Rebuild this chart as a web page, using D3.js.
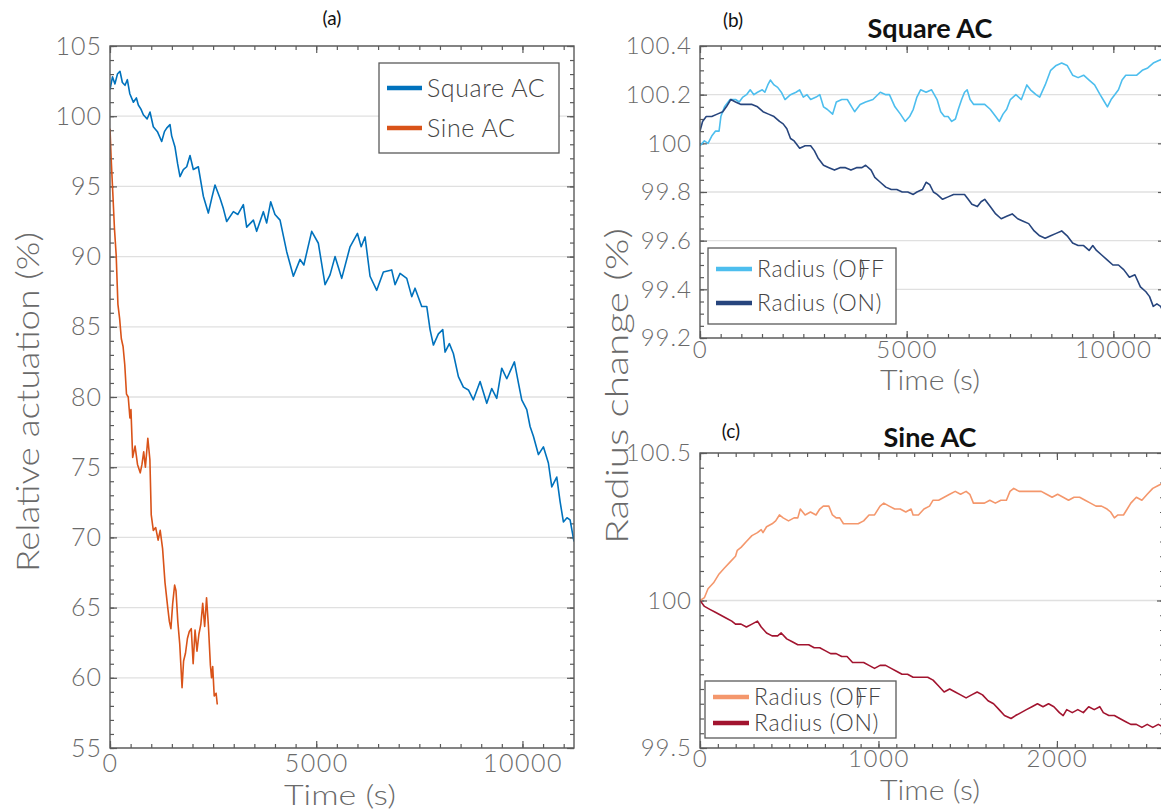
<!DOCTYPE html>
<html>
<head>
<meta charset="utf-8">
<script src="https://cdn.jsdelivr.net/npm/d3@7"></script>
<style>
  html, body { margin: 0; padding: 0; background: #fff; overflow: hidden; }
  svg { display: block; }
  text { font-family: "Lato", "Open Sans", sans-serif; }
</style>
</head>
<body>
<svg id="fig" width="1161" height="810"></svg>
<script>
// ---------- data ----------
// (a) relative actuation (%) over time (s)
const squareTime = [0,60,120,180,242,300,364,420,480,566,640,687,750,808,900,970,1050,1150,1253,1320,1374,1455,1495,1576,1640,1697,1778,1860,1940,2020,2141,2263,2384,2470,2546,2668,2750,2829,2991,3100,3233,3314,3476,3556,3718,3799,3896,4000,4123,4284,4446,4608,4700,4890,5052,5214,5335,5456,5540,5618,5820,6000,6090,6184,6305,6467,6628,6830,6911,7033,7195,7316,7396,7558,7680,7760,7841,7962,8068,8124,8228,8325,8447,8568,8690,8810,8973,9135,9256,9377,9498,9620,9805,9902,9983,10105,10185,10266,10387,10508,10629,10711,10832,10913,10993,11080,11155,11250];
const squareValue = [101.9,102.8,102.3,103.0,103.2,102.4,102.2,102.6,101.6,101.0,101.3,100.8,100.5,100.1,99.8,100.3,99.25,98.9,98.2,98.9,99.15,99.4,98.6,97.8,96.6,95.7,96.2,96.4,97.2,96.2,96.4,94.3,93.1,94.2,95.1,94.15,93.4,92.5,93.2,93.0,93.7,92.1,92.6,91.8,93.2,92.4,93.9,93.0,92.6,90.35,88.6,89.8,89.4,91.8,90.95,88.0,88.7,90.0,89.2,88.45,90.7,91.65,90.7,91.4,88.6,87.6,88.9,89.05,88.0,88.8,88.45,87.15,87.75,86.45,86.45,84.8,83.7,84.5,84.8,83.2,83.8,83.1,81.45,80.7,80.5,79.8,81.1,79.55,80.6,79.9,82.05,81.3,82.5,81.0,79.8,79.1,77.9,77.2,75.9,76.45,75.3,73.6,74.3,72.55,71.1,71.4,71.25,69.7];

const sineTime = [0,25,67,108,150,192,233,275,317,358,400,442,483,508,550,608,667,733,775,817,858,917,967,1000,1050,1108,1167,1217,1275,1333,1400,1440,1477,1520,1567,1600,1644,1691,1747,1784,1830,1877,1923,1970,2016,2062,2109,2155,2202,2248,2295,2341,2387,2434,2462,2490,2527,2573,2601];
const sineValue = [99.1,97.2,94.6,92.0,90.1,86.6,85.6,84.15,83.6,82.3,80.2,80.0,78.5,79.1,75.7,76.5,75.2,74.6,75.2,76.1,75.0,77.05,75.55,71.6,70.5,70.7,69.8,70.5,69.2,66.8,65.0,64.0,63.5,65.3,66.6,66.2,64.0,62.4,59.3,61.2,61.75,62.8,63.3,63.5,61.0,63.4,61.9,63.1,63.8,65.3,63.65,65.7,63.65,60.9,60.0,60.8,58.7,58.9,58.1];

// (b) Square AC radius change (%)
const sqOffTime = [0,106,195,284,372,461,505,594,727,860,949,1037,1126,1215,1303,1392,1507,1569,1640,1702,1791,1879,1968,2057,2190,2323,2411,2500,2589,2677,2810,2899,2988,3076,3209,3298,3431,3564,3670,3741,3874,4007,4184,4362,4495,4583,4716,4849,4964,5071,5160,5248,5337,5470,5603,5736,5824,5913,6002,6090,6179,6250,6330,6400,6463,6534,6622,6755,6888,7021,7154,7243,7331,7420,7509,7642,7775,7907,7996,8129,8218,8351,8484,8617,8750,8882,9015,9148,9281,9414,9547,9680,9787,9857,9946,10034,10124,10212,10301,10434,10567,10700,10833,10966,11099,11232];
const sqOffValue = [99.99,100.01,100.0,100.03,100.05,100.05,100.11,100.15,100.18,100.18,100.17,100.19,100.2,100.22,100.2,100.21,100.22,100.21,100.24,100.26,100.24,100.23,100.21,100.18,100.2,100.21,100.22,100.19,100.2,100.18,100.19,100.2,100.15,100.14,100.12,100.17,100.18,100.18,100.15,100.13,100.16,100.17,100.18,100.21,100.2,100.2,100.15,100.12,100.09,100.11,100.14,100.19,100.22,100.21,100.22,100.18,100.13,100.11,100.11,100.09,100.1,100.14,100.18,100.21,100.22,100.18,100.16,100.16,100.16,100.14,100.11,100.09,100.12,100.14,100.18,100.2,100.18,100.24,100.22,100.2,100.19,100.24,100.3,100.32,100.33,100.32,100.28,100.27,100.28,100.26,100.24,100.2,100.17,100.15,100.18,100.2,100.22,100.26,100.28,100.28,100.28,100.3,100.31,100.33,100.34,100.35];

const sqOnTime = [0,62,151,284,417,550,638,745,860,993,1126,1259,1392,1525,1658,1791,1924,2012,2101,2190,2278,2411,2544,2677,2766,2855,2988,3120,3253,3386,3519,3652,3785,3918,4007,4140,4229,4362,4495,4627,4760,4893,5026,5160,5248,5381,5470,5558,5647,5736,5869,6002,6135,6268,6400,6489,6578,6711,6800,6888,7021,7154,7287,7420,7553,7686,7819,7952,8085,8218,8351,8484,8617,8750,8882,9015,9148,9281,9414,9503,9592,9725,9857,9990,10124,10256,10389,10522,10655,10788,10877,10966,11054,11143,11232];
const sqOnValue = [100.05,100.09,100.11,100.11,100.12,100.13,100.15,100.18,100.17,100.16,100.16,100.16,100.15,100.13,100.12,100.11,100.09,100.08,100.06,100.02,100.01,99.98,99.99,99.99,99.97,99.94,99.91,99.9,99.89,99.9,99.9,99.89,99.9,99.9,99.91,99.89,99.86,99.84,99.82,99.81,99.81,99.8,99.8,99.79,99.8,99.81,99.84,99.83,99.8,99.79,99.77,99.78,99.79,99.79,99.79,99.77,99.75,99.74,99.76,99.77,99.74,99.71,99.69,99.7,99.71,99.69,99.68,99.67,99.64,99.62,99.61,99.62,99.63,99.64,99.62,99.59,99.58,99.58,99.56,99.58,99.56,99.54,99.52,99.5,99.5,99.48,99.45,99.46,99.41,99.39,99.37,99.33,99.34,99.33,99.3];

// (c) Sine AC radius change (%)
const siOffTime = [0,25,45,76,107,137,168,199,209,230,260,291,322,343,353,373,404,424,445,466,496,527,548,562,589,619,650,671,691,722,742,763,783,804,824,855,886,917,947,978,1009,1030,1060,1091,1122,1153,1183,1194,1224,1255,1286,1306,1337,1368,1399,1430,1460,1491,1512,1532,1563,1594,1624,1655,1686,1717,1737,1758,1788,1819,1850,1881,1912,1942,1973,2004,2035,2065,2096,2127,2158,2188,2219,2250,2281,2301,2322,2342,2373,2394,2414,2445,2476,2506,2537,2568,2600];
const siOffValue = [100.0,100.01,100.04,100.06,100.09,100.11,100.13,100.15,100.17,100.18,100.2,100.22,100.23,100.24,100.23,100.25,100.26,100.27,100.29,100.28,100.27,100.28,100.28,100.31,100.29,100.3,100.29,100.31,100.32,100.32,100.29,100.28,100.28,100.26,100.26,100.26,100.26,100.27,100.29,100.29,100.32,100.33,100.32,100.31,100.31,100.3,100.31,100.29,100.29,100.31,100.32,100.34,100.34,100.35,100.36,100.37,100.36,100.37,100.36,100.33,100.33,100.33,100.34,100.33,100.34,100.34,100.37,100.38,100.37,100.37,100.37,100.37,100.37,100.36,100.35,100.36,100.35,100.34,100.35,100.35,100.34,100.33,100.32,100.32,100.31,100.3,100.28,100.29,100.29,100.31,100.33,100.35,100.34,100.36,100.38,100.39,100.4];

const siOnTime = [0,25,55,86,117,148,178,199,230,260,291,322,343,373,404,435,455,486,517,548,578,609,640,671,701,732,763,794,824,855,886,917,947,978,1009,1040,1071,1101,1132,1163,1194,1224,1255,1276,1306,1337,1368,1399,1430,1460,1491,1522,1553,1583,1614,1645,1676,1706,1743,1768,1799,1829,1860,1891,1922,1953,1983,2014,2035,2055,2086,2117,2148,2178,2209,2240,2260,2291,2322,2352,2383,2414,2445,2476,2506,2537,2568,2600];
const siOnValue = [100.0,99.98,99.97,99.96,99.95,99.94,99.93,99.92,99.92,99.91,99.92,99.93,99.91,99.89,99.88,99.88,99.89,99.87,99.86,99.85,99.85,99.85,99.84,99.84,99.83,99.82,99.82,99.81,99.81,99.79,99.79,99.79,99.78,99.77,99.78,99.78,99.77,99.76,99.75,99.75,99.74,99.74,99.74,99.74,99.73,99.71,99.69,99.7,99.69,99.68,99.67,99.68,99.69,99.68,99.66,99.65,99.63,99.61,99.6,99.61,99.62,99.63,99.64,99.65,99.64,99.65,99.64,99.62,99.61,99.63,99.62,99.63,99.62,99.64,99.63,99.64,99.62,99.61,99.61,99.6,99.59,99.58,99.58,99.57,99.58,99.57,99.58,99.57];

// tick label values
const ticksAX = [0, 5000, 10000];
const ticksAY = [55, 60, 65, 70, 75, 80, 85, 90, 95, 100, 105];
const ticksBX = [0, 5000, 10000];
const ticksBY = [99.2, 99.4, 99.6, 99.8, 100, 100.2, 100.4];
const ticksCX = [0, 1000, 2000];
const ticksCY = [99.5, 100, 100.5];

// ---------- drawing ----------
const svg = d3.select("#fig");
const labelGrey = "#6a6a6a";
const frameGrey = "#5a5a5a";

function zip(t, v) { return t.map((x, i) => ({ t: x, v: v[i] })); }

function panel(box, xDom, yDom, opt) {
  const x = d3.scaleLinear().domain(xDom).range([box.left, box.right]);
  const y = d3.scaleLinear().domain(yDom).range([box.bottom, box.top]);
  const g = svg.append("g");

  // horizontal grid at major y ticks
  g.append("g").selectAll("line").data(opt.yTicks).join("line")
    .attr("x1", box.left).attr("x2", box.right)
    .attr("y1", d => y(d)).attr("y2", d => y(d))
    .attr("stroke", "#e0e0e0").attr("stroke-width", 1.3);

  // inward ticks on all four sides (minor + major)
  const xMinor = d3.range(xDom[0], xDom[1] + 1e-9, opt.xMinorStep);
  const yMinor = d3.range(yDom[0], yDom[1] + 1e-9, opt.yMinorStep).map(v => +v.toFixed(4));
  const tickStyle = sel => { sel.select(".domain").remove(); sel.selectAll("line").attr("stroke", frameGrey).attr("stroke-width", 1.2); sel.selectAll("text").remove(); };
  g.append("g").attr("transform", `translate(0,${box.bottom})`).call(d3.axisBottom(x).tickValues(xMinor).tickSize(-4)).call(tickStyle);
  g.append("g").attr("transform", `translate(0,${box.top})`).call(d3.axisTop(x).tickValues(xMinor).tickSize(-4)).call(tickStyle);
  g.append("g").attr("transform", `translate(${box.left},0)`).call(d3.axisLeft(y).tickValues(yMinor).tickSize(-4)).call(tickStyle);
  g.append("g").attr("transform", `translate(${box.right},0)`).call(d3.axisRight(y).tickValues(yMinor).tickSize(-4)).call(tickStyle);
  g.append("g").attr("transform", `translate(0,${box.bottom})`).call(d3.axisBottom(x).tickValues(opt.xTicks).tickSize(-7)).call(tickStyle);
  g.append("g").attr("transform", `translate(0,${box.top})`).call(d3.axisTop(x).tickValues(opt.xTicks).tickSize(-7)).call(tickStyle);
  g.append("g").attr("transform", `translate(${box.left},0)`).call(d3.axisLeft(y).tickValues(opt.yTicks).tickSize(-7)).call(tickStyle);
  g.append("g").attr("transform", `translate(${box.right},0)`).call(d3.axisRight(y).tickValues(opt.yTicks).tickSize(-7)).call(tickStyle);

  // tick labels
  const xAx = g.append("g").attr("transform", `translate(0,${box.bottom})`)
    .call(d3.axisBottom(x).tickValues(opt.xTicks).tickSize(0).tickPadding(opt.xPad).tickFormat(d3.format("d")));
  xAx.select(".domain").remove();
  xAx.selectAll("text").attr("font-family", "Lato, sans-serif").attr("font-weight", 300)
    .attr("font-size", opt.tickFont).attr("letter-spacing", "1.5px").attr("fill", labelGrey);
  const yAx = g.append("g").attr("transform", `translate(${box.left},0)`)
    .call(d3.axisLeft(y).tickValues(opt.yTicks).tickSize(0).tickPadding(8).tickFormat(d => String(+d.toFixed(1))));
  yAx.select(".domain").remove();
  yAx.selectAll("text").attr("font-family", "Lato, sans-serif").attr("font-weight", 300)
    .attr("font-size", opt.tickFont).attr("letter-spacing", "1px").attr("fill", labelGrey);

  // series, clipped to the axes box
  const clipId = "clip" + Math.round(box.left) + "_" + Math.round(box.top);
  svg.append("clipPath").attr("id", clipId).append("rect")
    .attr("x", box.left).attr("y", box.top).attr("width", box.right - box.left).attr("height", box.bottom - box.top);
  const line = d3.line().x(d => x(d.t)).y(d => y(d.v));
  const lg = g.append("g").attr("clip-path", `url(#${clipId})`);
  opt.series.forEach(s => {
    lg.append("path").datum(zip(s.t, s.v)).attr("d", line)
      .attr("fill", "none").attr("stroke", s.color).attr("stroke-width", 1.6).attr("stroke-linejoin", "round");
  });

  // frame
  g.append("rect").attr("x", box.left).attr("y", box.top)
    .attr("width", box.right - box.left).attr("height", box.bottom - box.top)
    .attr("fill", "none").attr("stroke", frameGrey).attr("stroke-width", 1.4);

  // x axis title
  g.append("text").attr("x", opt.xTitleX).attr("y", box.bottom + opt.xTitleDy)
    .attr("text-anchor", "middle").attr("font-weight", 300).attr("font-size", 28).attr("fill", labelGrey)
    .attr("textLength", opt.xTitleLen).attr("lengthAdjust", "spacingAndGlyphs")
    .text("Time (s)");

  // legend
  const L = opt.legend;
  const lgd = g.append("g");
  lgd.append("rect").attr("x", L.x).attr("y", L.y).attr("width", L.w).attr("height", L.h)
    .attr("fill", "#fff").attr("stroke", frameGrey).attr("stroke-width", 1.3);
  L.items.forEach((it, i) => {
    const cy = L.y + L.first + i * L.gap;
    const tx = L.x + 13 + L.sample;
    lgd.append("line").attr("x1", L.x + 8).attr("x2", L.x + 8 + L.sample).attr("y1", cy).attr("y2", cy)
      .attr("stroke", it.color).attr("stroke-width", 4.5);
    lgd.append("text").attr("x", tx).attr("y", cy).attr("dy", "0.35em")
      .attr("font-weight", 300).attr("font-size", L.font).attr("letter-spacing", "0.6px").attr("fill", "#444")
      .text(it.label);
    if (it.overlap) {
      // closing parenthesis printed over the first "F"
      const pre = lgd.append("text").attr("font-size", L.font).attr("font-weight", 300).attr("letter-spacing", "0.6px")
        .attr("visibility", "hidden").text(it.label.slice(0, it.overlap));
      const w = pre.node().getComputedTextLength();
      pre.remove();
      lgd.append("text").attr("x", tx + w + 2).attr("y", cy).attr("dy", "0.35em")
        .attr("font-weight", 300).attr("font-size", L.font).attr("fill", "#444").text(")");
    }
  });
  return { x, y };
}

// (a)
panel({ left: 110, right: 574, top: 46, bottom: 748 }, [0, 11250], [55, 105], {
  xTicks: ticksAX, yTicks: ticksAY, xMinorStep: 500, yMinorStep: 1, tickFont: 25, xPad: 6,
  xTitleDy: 57, xTitleX: 340, xTitleLen: 112,
  series: [
    { t: squareTime, v: squareValue, color: "#0072BD" },
    { t: sineTime, v: sineValue, color: "#D95319" }
  ],
  legend: { x: 379, y: 63, w: 180, h: 90, first: 25, gap: 40, sample: 35, font: 25,
    items: [{ label: "Square AC", color: "#0072BD" }, { label: "Sine AC", color: "#D95319" }] }
});

// (b)
panel({ left: 700, right: 1165, top: 46, bottom: 338 }, [0, 11250], [99.2, 100.4], {
  xTicks: ticksBX, yTicks: ticksBY, xMinorStep: 500, yMinorStep: 0.05, tickFont: 24, xPad: 3,
  xTitleDy: 52, xTitleX: 930, xTitleLen: 100,
  series: [
    { t: sqOffTime, v: sqOffValue, color: "#4DBEEE" },
    { t: sqOnTime, v: sqOnValue, color: "#27457D" }
  ],
  legend: { x: 708, y: 248, w: 188, h: 76, first: 21, gap: 34, sample: 36, font: 23,
    items: [{ label: "Radius (OFF", color: "#4DBEEE", overlap: 9 }, { label: "Radius (ON)", color: "#27457D" }] }
});

// (c)
panel({ left: 700, right: 1164, top: 453, bottom: 748 }, [0, 2600], [99.5, 100.5], {
  xTicks: ticksCX, yTicks: ticksCY, xMinorStep: 100, yMinorStep: 0.05, tickFont: 24, xPad: 2,
  xTitleDy: 52, xTitleX: 930, xTitleLen: 100,
  series: [
    { t: siOffTime, v: siOffValue, color: "#F4976C" },
    { t: siOnTime, v: siOnValue, color: "#A2142F" }
  ],
  legend: { x: 705, y: 681, w: 191, h: 57, first: 16, gap: 26, sample: 36, font: 23,
    items: [{ label: "Radius (OFF", color: "#F4976C", overlap: 9 }, { label: "Radius (ON)", color: "#A2142F" }] }
});

// panel letters and titles
const letter = (x, y, s) => svg.append("text").attr("x", x).attr("y", y).attr("text-anchor", "middle")
  .attr("font-family", "Liberation Sans, Arial, sans-serif").attr("font-size", 19).attr("fill", "#111").text(s);
letter(332, 25, "(a)");
letter(733, 27, "(b)");
letter(731, 438, "(c)");
const title = (x, y, s) => svg.append("text").attr("x", x).attr("y", y).attr("text-anchor", "middle")
  .attr("font-family", "Liberation Sans, Arial, sans-serif").attr("font-weight", "bold").attr("font-size", 27).attr("fill", "#111").text(s);
title(930, 38, "Square AC");
title(930, 447, "Sine AC");

// y axis titles
svg.append("text").attr("transform", "translate(39,402) rotate(-90)").attr("text-anchor", "middle")
  .attr("font-weight", 300).attr("font-size", 32).attr("fill", labelGrey)
  .attr("textLength", 340).attr("lengthAdjust", "spacingAndGlyphs").text("Relative actuation (%)");
svg.append("text").attr("transform", "translate(628,386) rotate(-90)").attr("text-anchor", "middle")
  .attr("font-weight", 300).attr("font-size", 32).attr("fill", labelGrey)
  .attr("textLength", 316).attr("lengthAdjust", "spacingAndGlyphs").text("Radius change (%)");
</script>
</body>
</html>
